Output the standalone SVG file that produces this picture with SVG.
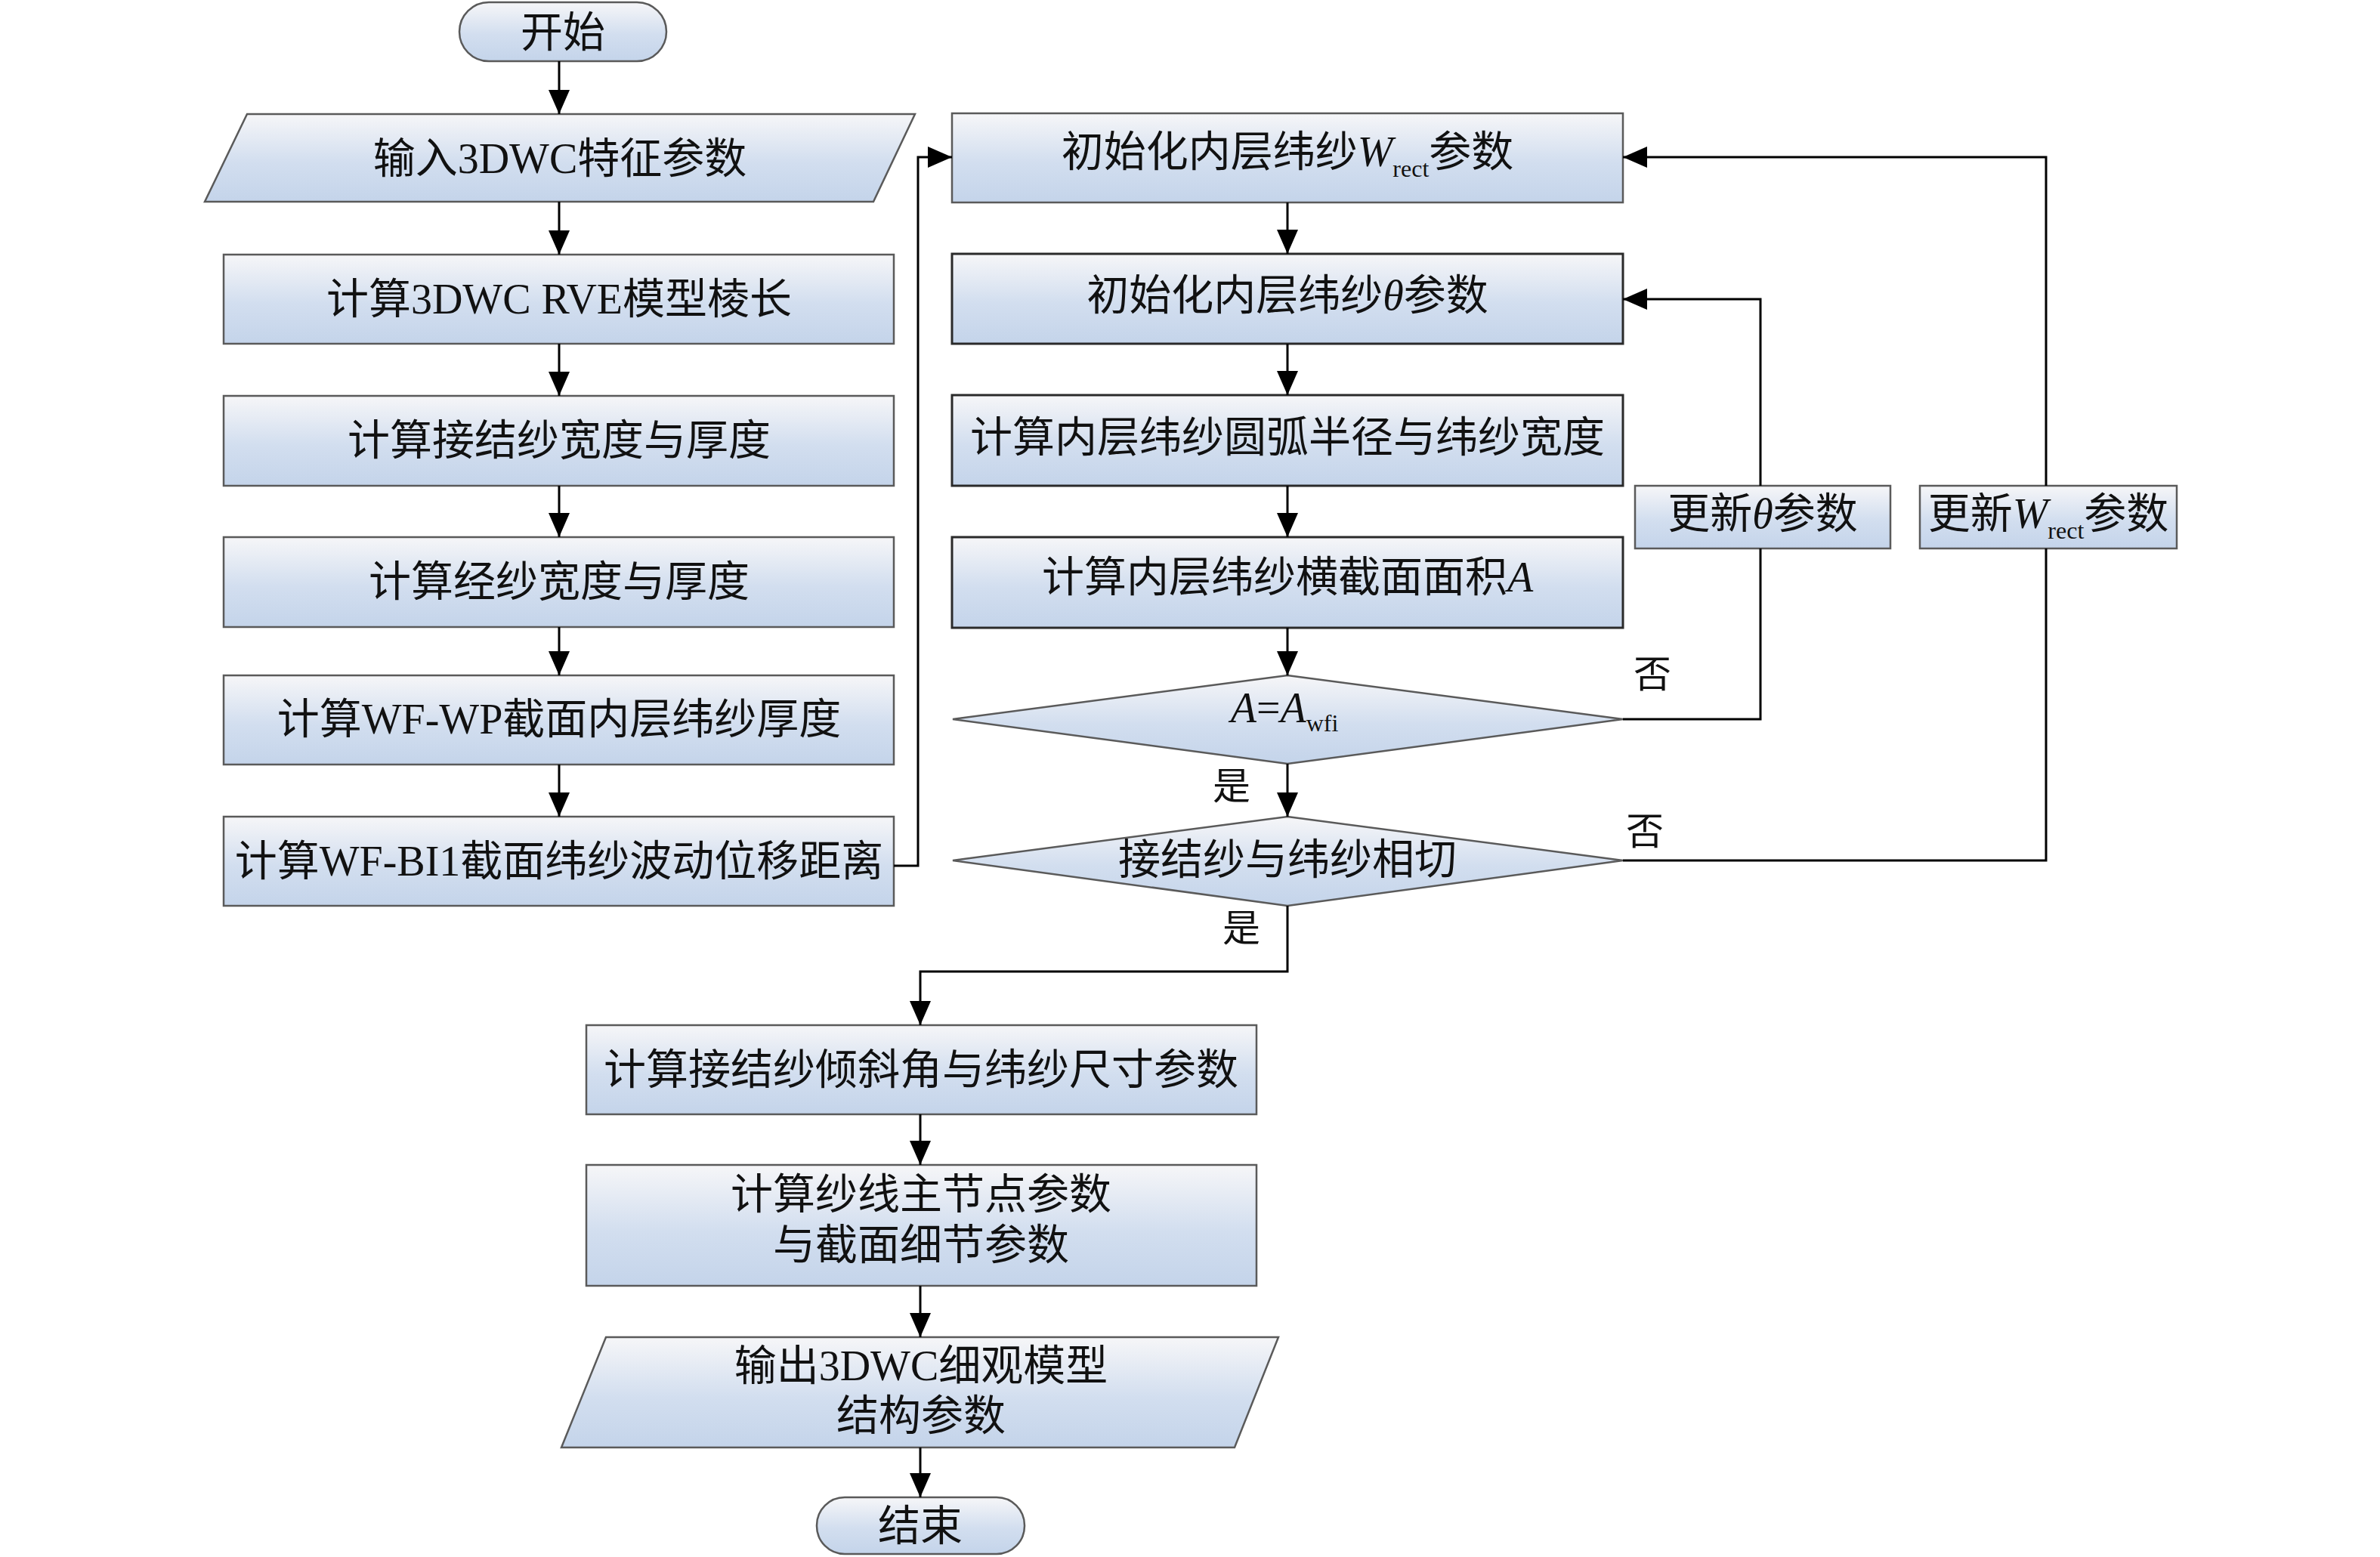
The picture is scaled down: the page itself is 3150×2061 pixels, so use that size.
<svg xmlns="http://www.w3.org/2000/svg" width="3150" height="2061" viewBox="0 0 3150 2061">
<defs>
<linearGradient id="g" x1="0" y1="0" x2="0" y2="1">
<stop offset="0" stop-color="#f6f6f8"/>
<stop offset="0.55" stop-color="#d2deef"/>
<stop offset="1" stop-color="#c4d4ea"/>
</linearGradient>
<marker id="ah" markerWidth="32" markerHeight="28" refX="32" refY="14" orient="auto" markerUnits="userSpaceOnUse">
<path d="M0,0 L32,14 L0,28 Z" fill="#000"/>
</marker>
<style>
.n{fill:url(#g);stroke:#5a5a5a;stroke-width:2.5}
.nd{fill:url(#g);stroke:#2a2a2a;stroke-width:3}
.t{font-family:"Liberation Serif","Noto Sans CJK SC",serif;font-size:56px;fill:#111;text-anchor:middle}
.l{font-family:"Liberation Serif","Noto Sans CJK SC",serif;font-size:50px;fill:#111}
.c{fill:none;stroke:#000;stroke-width:3}
.ca{fill:none;stroke:#000;stroke-width:3;marker-end:url(#ah)}
.i{font-style:italic}
.s{font-size:32px}
</style>
</defs>
<rect width="3150" height="2061" fill="#fff"/>

<g id="start"><rect class="n" x="608" y="3" width="274" height="78" rx="39"/><text class="t" x="745" y="62">开始</text></g>
<g id="input"><polygon class="n" points="327,151 1211,151 1156,267 271,267"/><text class="t" x="741" y="229">输入3DWC特征参数</text></g>
<g id="rve"><rect class="n" x="296" y="337" width="887" height="118"/><text class="t" x="740" y="415">计算3DWC RVE模型棱长</text></g>
<g id="jiejie"><rect class="n" x="296" y="524" width="887" height="119"/><text class="t" x="740" y="602">计算接结纱宽度与厚度</text></g>
<g id="jingsha"><rect class="n" x="296" y="711" width="887" height="119"/><text class="t" x="740" y="789">计算经纱宽度与厚度</text></g>
<g id="wfwp"><rect class="n" x="296" y="894" width="887" height="118"/><text class="t" x="740" y="971">计算WF-WP截面内层纬纱厚度</text></g>
<g id="wfbi"><rect class="n" x="296" y="1081" width="887" height="118"/><text class="t" x="740" y="1159">计算WF-BI1截面纬纱波动位移距离</text></g>

<g id="initW"><rect class="n" x="1260" y="150" width="888" height="118"/><text class="t" x="1704" y="220">初始化内层纬纱<tspan class="i">W</tspan><tspan class="s" dy="14">rect</tspan><tspan dy="-14">参数</tspan></text></g>
<g id="initTheta"><rect class="nd" x="1260" y="336" width="888" height="119"/><text class="t" x="1704" y="410">初始化内层纬纱<tspan class="i">θ</tspan>参数</text></g>
<g id="radius"><rect class="nd" x="1260" y="523" width="888" height="120"/><text class="t" x="1704" y="598">计算内层纬纱圆弧半径与纬纱宽度</text></g>
<g id="area"><rect class="nd" x="1260" y="711" width="888" height="120"/><text class="t" x="1704" y="783">计算内层纬纱横截面面积<tspan class="i">A</tspan></text></g>
<g id="dec1"><polygon class="n" points="1704,894 2148,952 1704,1011 1261,952"/><text class="t" x="1700" y="956"><tspan class="i">A</tspan>=<tspan class="i">A</tspan><tspan class="s" dy="12">wfi</tspan></text></g>
<g id="dec2"><polygon class="n" points="1704,1081 2148,1139 1704,1199 1261,1139"/><text class="t" x="1704" y="1157">接结纱与纬纱相切</text></g>
<g id="updTheta"><rect class="n" x="2164" y="643" width="338" height="83"/><text class="t" x="2333" y="699">更新<tspan class="i">θ</tspan>参数</text></g>
<g id="updW"><rect class="n" x="2541" y="643" width="340" height="83"/><text class="t" x="2711" y="699">更新<tspan class="i">W</tspan><tspan class="s" dy="14">rect</tspan><tspan dy="-14">参数</tspan></text></g>

<g id="incline"><rect class="n" x="776" y="1357" width="887" height="118"/><text class="t" x="1219" y="1435">计算接结纱倾斜角与纬纱尺寸参数</text></g>
<g id="nodes"><rect class="n" x="776" y="1542" width="887" height="160"/><text class="t" x="1219" y="1600">计算纱线主节点参数</text><text class="t" x="1219" y="1667">与截面细节参数</text></g>
<g id="output"><polygon class="n" points="802,1770 1692,1770 1634,1916 743,1916"/><text class="t" x="1219" y="1827">输出3DWC细观模型</text><text class="t" x="1219" y="1893">结构参数</text></g>
<g id="end"><rect class="n" x="1081" y="1982" width="275" height="75" rx="37"/><text class="t" x="1218" y="2039">结束</text></g>

<g id="connectors">
<path class="ca" d="M740,81 V151"/>
<path class="ca" d="M740,267 V337"/>
<path class="ca" d="M740,455 V524"/>
<path class="ca" d="M740,643 V711"/>
<path class="ca" d="M740,830 V894"/>
<path class="ca" d="M740,1012 V1081"/>
<path class="ca" d="M1183,1146 H1215 V208 H1260"/>
<path class="ca" d="M1704,268 V336"/>
<path class="ca" d="M1704,455 V523"/>
<path class="ca" d="M1704,643 V711"/>
<path class="ca" d="M1704,831 V894"/>
<path class="ca" d="M1704,1011 V1081"/>
<path class="ca" d="M1704,1199 V1286 H1218 V1357"/>
<path class="ca" d="M1218,1475 V1542"/>
<path class="ca" d="M1218,1702 V1770"/>
<path class="ca" d="M1218,1916 V1982"/>
<path class="c" d="M2148,952 H2330 V726"/>
<path class="ca" d="M2330,643 V396 H2148"/>
<path class="c" d="M2148,1139 H2708 V726"/>
<path class="ca" d="M2708,643 V208 H2148"/>
<text class="l" x="2162" y="910">否</text>
<text class="l" x="2152" y="1118">否</text>
<text class="l" x="1605" y="1058">是</text>
<text class="l" x="1618" y="1246">是</text>
</g>
</svg>
